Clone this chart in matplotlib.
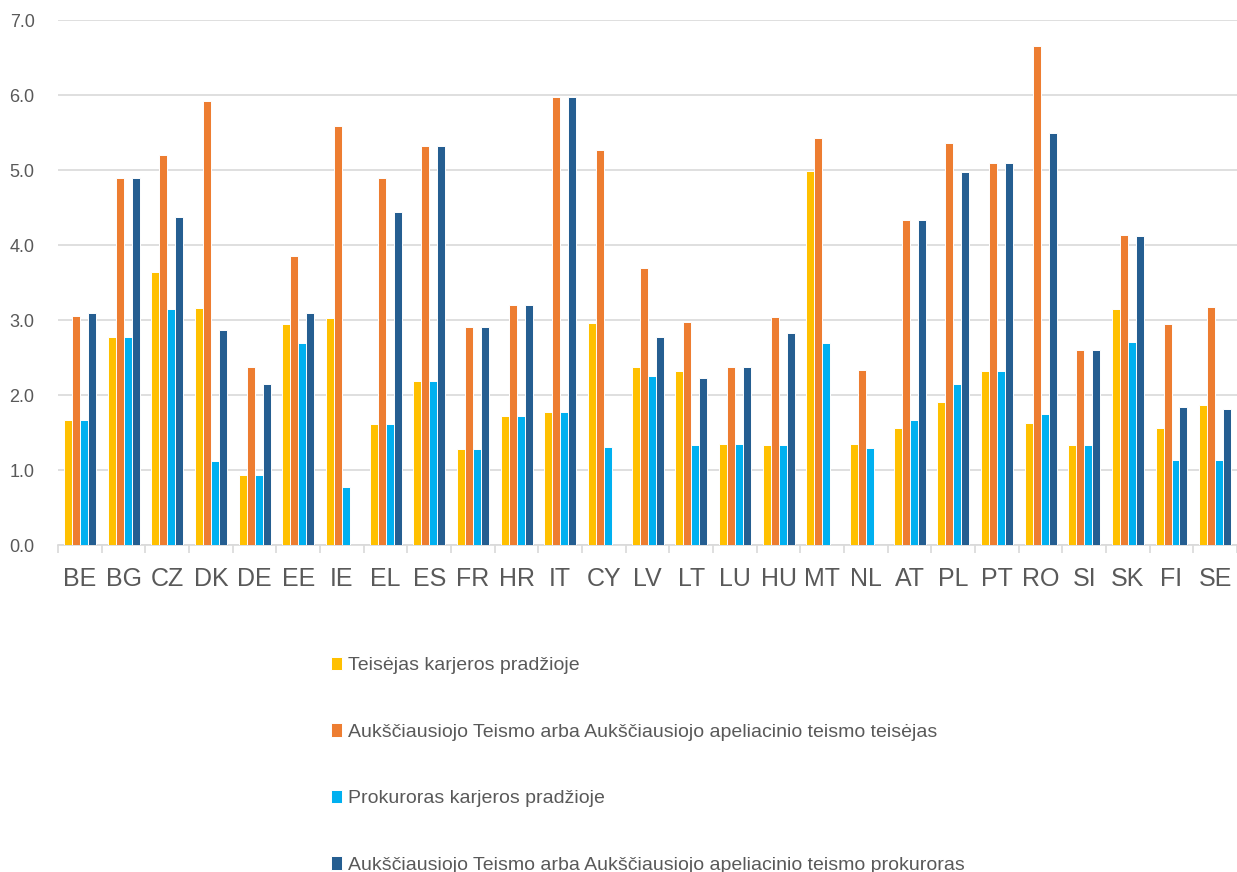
import numpy as np
import matplotlib.pyplot as plt

plt.rcParams['font.family'] = ['Liberation Sans', 'DejaVu Sans']

countries = ["BE", "BG", "CZ", "DK", "DE", "EE", "IE", "EL", "ES", "FR", "HR", "IT", "CY", "LV",
             "LT", "LU", "HU", "MT", "NL", "AT", "PL", "PT", "RO", "SI", "SK", "FI", "SE"]

teisejas_pradzia = [1.67, 2.78, 3.64, 3.16, 0.94, 2.95, 3.03, 1.61, 2.19, 1.28, 1.72, 1.77, 2.96, 2.37,
                    2.32, 1.35, 1.33, 4.99, 1.35, 1.56, 1.91, 2.32, 1.63, 1.33, 3.15, 1.56, 1.87]
teisejas_aukst = [3.05, 4.89, 5.20, 5.92, 2.37, 3.86, 5.59, 4.89, 5.32, 2.91, 3.20, 5.97, 5.27, 3.70,
                  2.97, 2.38, 3.04, 5.43, 2.33, 4.34, 5.36, 5.10, 6.65, 2.60, 4.14, 2.95, 3.17]
prokuroras_pradzia = [1.67, 2.78, 3.15, 1.12, 0.94, 2.70, 0.78, 1.61, 2.19, 1.28, 1.72, 1.77, 1.31, 2.26,
                      1.33, 1.35, 1.33, 2.69, 1.29, 1.67, 2.15, 2.32, 1.75, 1.33, 2.71, 1.14, 1.14]
prokuroras_aukst = [3.10, 4.89, 4.37, 2.87, 2.15, 3.09, np.nan, 4.44, 5.32, 2.91, 3.20, 5.97, np.nan, 2.78,
                    2.23, 2.38, 2.83, np.nan, np.nan, 4.34, 4.97, 5.10, 5.49, 2.60, 4.12, 1.84, 1.81]

series = [teisejas_pradzia, teisejas_aukst, prokuroras_pradzia, prokuroras_aukst]
labels = ["Teisėjas karjeros pradžioje",
          "Aukščiausiojo Teismo arba Aukščiausiojo apeliacinio teismo teisėjas",
          "Prokuroras karjeros pradžioje",
          "Aukščiausiojo Teismo arba Aukščiausiojo apeliacinio teismo prokuroras"]
colors = ["#FFC000", "#ED7D31", "#00B0F0", "#255E91"]

fig = plt.figure(figsize=(12.37, 8.72), dpi=100)
ax = fig.add_axes([0.047, 0.375, 0.953, 0.602])

x = np.arange(len(countries))
w = 0.183
for i, vals in enumerate(series):
    ax.bar(x + (i - 1.5) * w, vals, w, color=colors[i], edgecolor='white', linewidth=0.7,
           label=labels[i], zorder=3)

ax.set_xlim(-0.5, len(countries) - 0.5)
ax.set_ylim(0, 7)
ax.set_yticks(np.arange(0, 7.1, 1.0))
ax.set_yticklabels([f"{v:.1f}" for v in np.arange(0, 7.1, 1.0)], fontsize=13, color='#595959')
ax.yaxis.grid(True, color='#D9D9D9', linewidth=1.2, zorder=0)
ax.tick_params(axis='y', length=0, pad=17)

ax.set_xticks(x)
ax.set_xticklabels(countries, fontsize=18, color='#595959')
ax.set_xticks(np.arange(-0.5, len(countries), 1.0), minor=True)
ax.tick_params(axis='x', which='major', length=0, pad=16)
ax.tick_params(axis='x', which='minor', length=6, color='#D9D9D9', width=1.2)

for s in ['top', 'right', 'left']:
    ax.spines[s].set_visible(False)
ax.spines['bottom'].set_color('#D9D9D9')
ax.spines['bottom'].set_linewidth(1.2)

fig.legend(loc='upper left', bbox_to_anchor=(0.261, 0.256), frameon=False, fontsize=14,
           labelcolor='#595959', handlelength=0.6, handleheight=0.7, handletextpad=0.3,
           labelspacing=2.52, borderaxespad=0)

fig.savefig("out.png", dpi=100)
